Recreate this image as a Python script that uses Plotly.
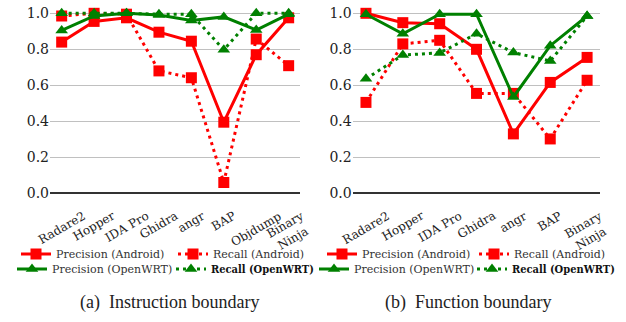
import plotly.graph_objects as go

tools_a = ["Radare2", "Hopper", "IDA Pro", "Ghidra", "angr", "BAP", "Objdump", "Binary<br>Ninja"]
prec_android_a = [0.84, 0.955, 0.975, 0.895, 0.845, 0.395, 0.77, 0.975]
rec_android_a = [0.985, 1.0, 0.995, 0.68, 0.642, 0.06, 0.857, 0.709]
prec_openwrt_a = [0.905, 0.985, 1.0, 0.99, 0.96, 0.98, 0.907, 0.995]
rec_openwrt_a = [1.0, 1.0, 1.0, 0.995, 0.995, 0.797, 1.0, 1.0]

tools_b = ["Radare2", "Hopper", "IDA Pro", "Ghidra", "angr", "BAP", "Binary<br>Ninja"]
prec_android_b = [1.0, 0.948, 0.942, 0.80, 0.33, 0.616, 0.755]
rec_android_b = [0.505, 0.83, 0.85, 0.555, 0.555, 0.302, 0.628]
prec_openwrt_b = [0.995, 0.886, 0.995, 0.995, 0.535, 0.82, 0.985]
rec_openwrt_b = [0.636, 0.768, 0.78, 0.886, 0.782, 0.735, 0.985]

series_names = ["Precision (Android)", "Recall (Android)", "Precision (OpenWRT)", "<b>Recall (OpenWRT)</b>"]
captions = ["(a)  Instruction boundary", "(b)  Function boundary"]

RED = "#ff0000"
GREEN = "#008000"
styles = [
    dict(color=RED, dash="solid", symbol="square"),
    dict(color=RED, dash="3px,4px", symbol="square"),
    dict(color=GREEN, dash="solid", symbol="triangle-up"),
    dict(color=GREEN, dash="3px,4px", symbol="triangle-up"),
]

W = 626.0
H = 322.0

# legend symbol-start positions (pixels) for each panel / series
leg_pos = [
    [(21, 254), (178, 254), (17, 269), (176, 269)],
    [(327, 254), (479, 254), (319, 269), (477, 269)],
]

fig = go.Figure()
panels = [
    (tools_a, [prec_android_a, rec_android_a, prec_openwrt_a, rec_openwrt_a], "x", "y"),
    (tools_b, [prec_android_b, rec_android_b, prec_openwrt_b, rec_openwrt_b], "x2", "y2"),
]
legend_layout = {}
k = 0
for p, (tools, series, xa, ya) in enumerate(panels):
    for s, (name, vals, st) in enumerate(zip(series_names, series, styles)):
        k += 1
        lg = "legend" if k == 1 else f"legend{k}"
        fig.add_trace(go.Scatter(
            x=list(range(len(tools))), y=vals, name=name, mode="lines+markers",
            line=dict(color=st["color"], width=3, dash=st["dash"]),
            marker=dict(symbol=st["symbol"], size=11, color=st["color"]),
            xaxis=xa, yaxis=ya, legend=lg, cliponaxis=False,
        ))
        px, py = leg_pos[p][s]
        legend_layout[lg] = dict(
            x=(px - 5) / W, y=1 - py / H, xanchor="left", yanchor="middle",
            orientation="v", itemwidth=30, bgcolor="rgba(0,0,0,0)", borderwidth=0,
            font=dict(family="DejaVu Serif Condensed" if s == 3 else "DejaVu Serif", size=11,
                      color="#111" if s == 3 else "#333"),
        )

ybot = 1 - 193.3 / H
ytop = 1 - (193.3 - 1.03 * 180) / H

tickfont_y = dict(family="DejaVu Serif", size=14, color="#222")

def xaxis_cfg(tools, dom):
    return dict(
        domain=dom, range=[-0.36, len(tools) - 1 + 0.35],
        tickmode="array", tickvals=list(range(len(tools))), ticktext=[""] * len(tools),
        showticklabels=False, showgrid=False, zeroline=False, showline=False, ticks="",
    )

def yaxis_cfg(anchor):
    return dict(
        domain=[ybot, ytop], range=[0, 1.03], tickvals=[0, 0.2, 0.4, 0.6, 0.8, 1.0],
        ticktext=["0.0", "0.2", "0.4", "0.6", "0.8", "1.0"], tickfont=tickfont_y,
        showgrid=True, gridcolor="#c0c0c0", gridwidth=1.2, zeroline=True,
        zerolinecolor="#333", zerolinewidth=1.5, showline=False, ticks="", anchor=anchor,
    )

annotations = []
for tools, xa in [(tools_a, "x"), (tools_b, "x2")]:
    for i, t in enumerate(tools):
        annotations.append(dict(
            text=t, x=i, xref=xa, y=1 - 206 / H, yref="paper", xanchor="center", yanchor="top",
            textangle=-30, showarrow=False, align="center",
            font=dict(family="DejaVu Serif", size=12, color="#222"),
        ))
for cap, cx in zip(captions, [170, 468]):
    annotations.append(dict(
        text=cap, x=cx / W, y=1 - 302 / H, xref="paper", yref="paper", showarrow=False,
        xanchor="center", yanchor="middle",
        font=dict(family="Liberation Serif", size=18, color="#222"),
    ))

fig.update_layout(
    width=626, height=322, margin=dict(l=0, r=0, t=0, b=0, autoexpand=False),
    plot_bgcolor="white", paper_bgcolor="white", showlegend=True,
    xaxis=xaxis_cfg(tools_a, [50 / W, 300 / W]),
    xaxis2=xaxis_cfg(tools_b, [352.7 / W, 600 / W]),
    yaxis=yaxis_cfg("x"),
    yaxis2=yaxis_cfg("x2"),
    annotations=annotations,
    **legend_layout,
)

fig.write_html("out.html", config={"displayModeBar": False},
               post_script="document.body.style.margin='0';document.body.style.overflow='hidden';")
